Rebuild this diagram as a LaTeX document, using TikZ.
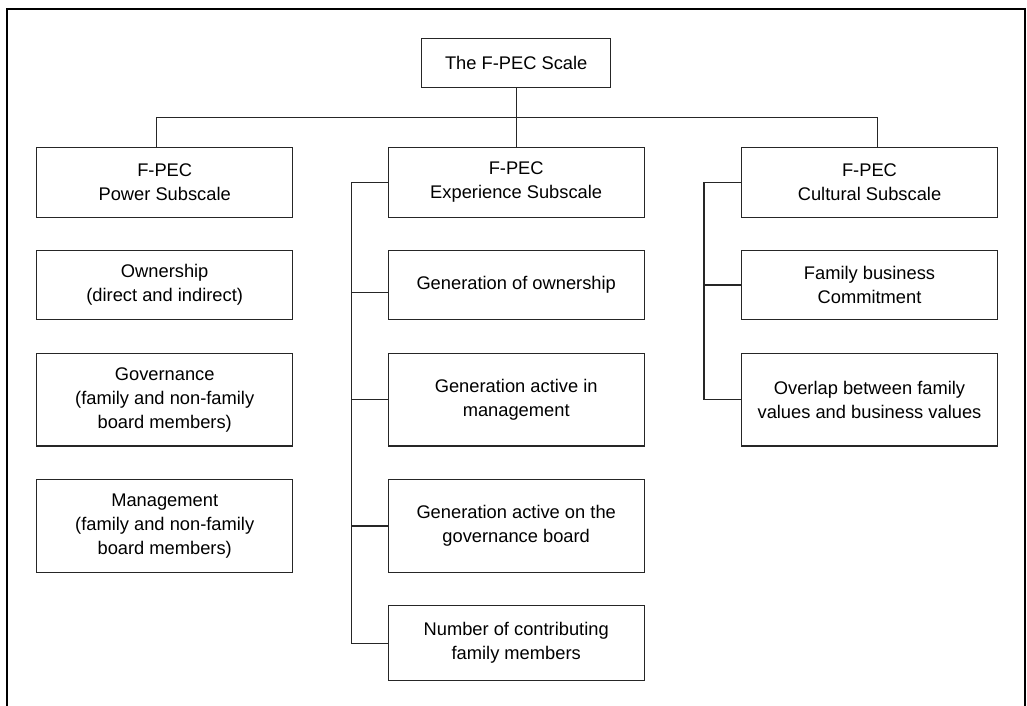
\documentclass[tikz,border=0pt]{standalone}
\usepackage{fontspec}
\setmainfont{Liberation Sans}
\begin{document}
\begin{tikzpicture}[x=1pt,y=-1pt,
  box/.style={draw=black!85,line width=1.3pt,align=center,inner sep=0pt,
    font=\fontsize{18.3}{24}\selectfont},
  sub/.style={box,minimum width=256pt,minimum height=69.5pt},
  link/.style={draw=black!85,line width=1.3pt}]
\useasboundingbox (0,0) rectangle (1027,705);
\draw[line width=2pt] (7,710) -- (7,9) -- (1024.5,9) -- (1024.5,710);
% top
\node[box,minimum width=189pt,minimum height=49pt] (top) at (516.2,62.8) {The F-PEC Scale};
% subscales
\node[sub] (pow) at (164.7,182.5) {F-PEC\\Power Subscale};
\node[sub] (exp) at (516.2,182.5) {F-PEC\\Experience Subscale};
\node[sub] (cul) at (869.5,182.5) {F-PEC\\Cultural Subscale};
% power children
\node[box,minimum width=256pt,minimum height=68.6pt] (own) at (164.7,285) {Ownership\\(direct and indirect)};
\node[box,minimum width=256pt,minimum height=92.7pt] (gov) at (164.7,399.7) {Governance\\(family and non-family\\board members)};
\node[box,minimum width=256pt,minimum height=93.4pt] (man) at (164.7,526) {Management\\(family and non-family\\board members)};
% experience children
\node[box,minimum width=256pt,minimum height=68.6pt] (g1) at (516.2,285) {Generation of ownership};
\node[box,minimum width=256pt,minimum height=92.7pt] (g2) at (516.2,399.7) {Generation active in\\management};
\node[box,minimum width=256pt,minimum height=93.4pt] (g3) at (516.2,526) {Generation active on the\\governance board};
\node[box,minimum width=256pt,minimum height=75pt] (g4) at (516.2,643.2) {Number of contributing\\family members};
% cultural children
\node[box,minimum width=256pt,minimum height=68.6pt] (c1) at (869.5,285) {Family business\\Commitment};
\node[box,minimum width=256pt,minimum height=92.7pt] (c2) at (869.5,399.7) {Overlap between family\\values and business values};
% connectors
\coordinate (bus) at (516.2,117.3);
\coordinate (et) at (351.7,182.5);
\coordinate (ct) at (704,182.5);
\draw[link] (top.south) -- (exp.north);
\draw[link] ([xshift=-8pt]pow.north) |- (bus) -| ([xshift=7.8pt]cul.north);
\draw[link] (exp.west) -- (et) |- (g4.west);
\draw[link] (et) |- ([yshift=-7.3pt]g1.west);
\draw[link] (et) |- (g2.west);
\draw[link] (et) |- (g3.west);
\draw[link] (cul.west) -- (ct) |- (c2.west);
\draw[link] (ct) |- (c1.west);
\end{tikzpicture}
\end{document}
